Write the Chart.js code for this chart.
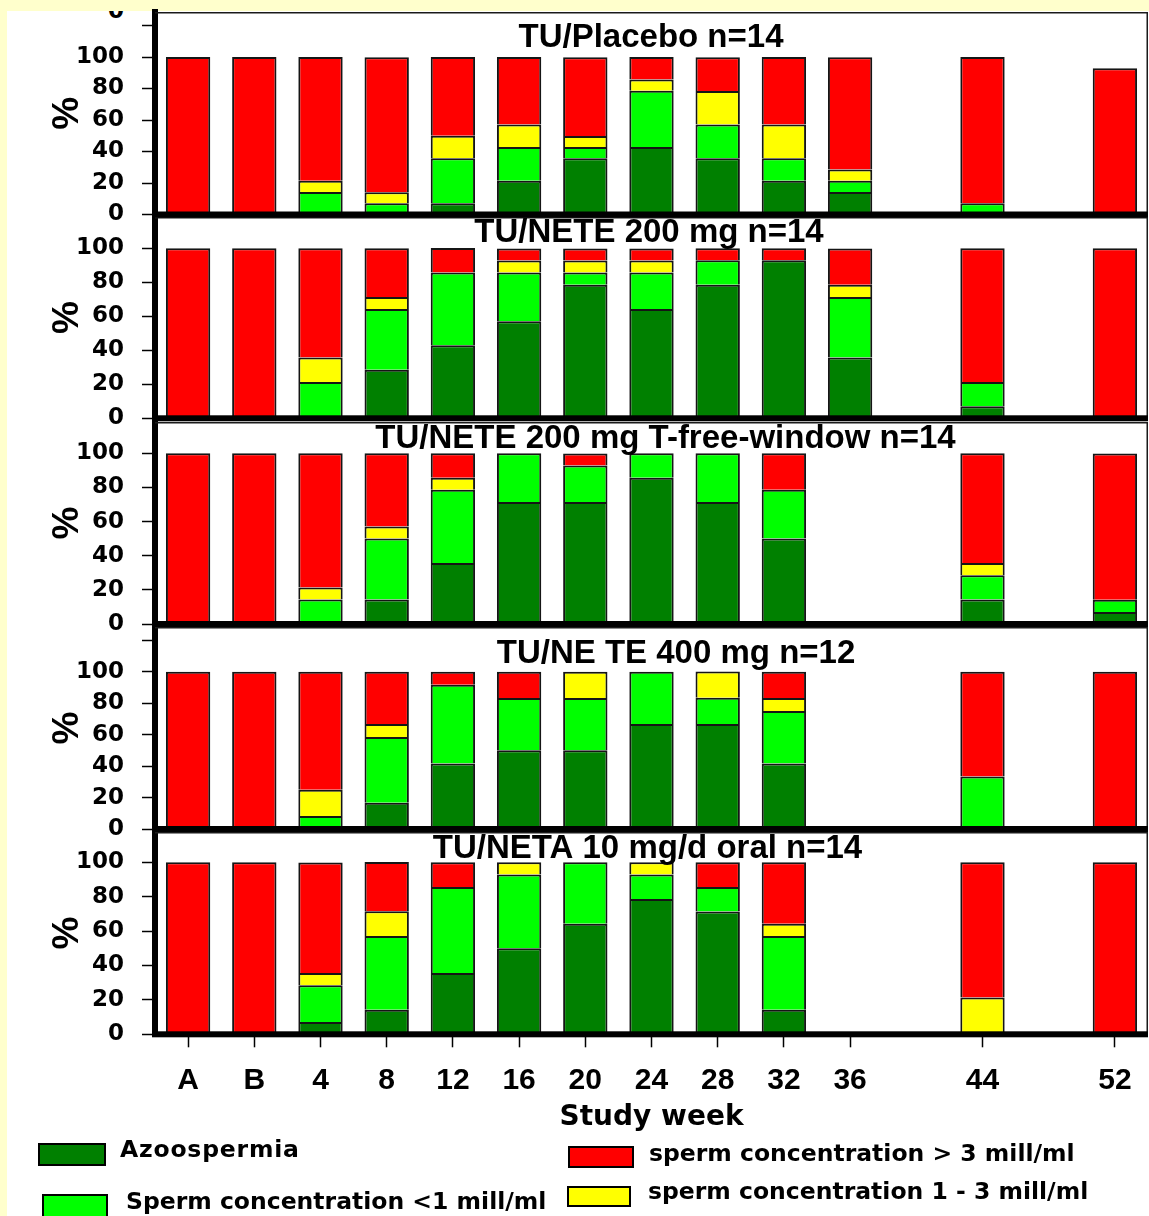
<!DOCTYPE html>
<html><head><meta charset="utf-8">
<script src="https://cdn.jsdelivr.net/npm/chart.js@4.4.1/dist/chart.umd.min.js"></script>
<style>
html,body{margin:0;padding:0}
body{width:1149px;height:1216px;overflow:hidden;background:#FFFFCC;position:relative}
#frame{position:absolute;left:7px;top:11px;width:1142px;height:1205px;background:#fff;overflow:hidden}
#clip0{position:absolute;left:0;top:-12px;width:117px;text-align:right;font:bold 23px/1 "DejaVu Sans",sans-serif;color:#000}
canvas{position:absolute;left:-30px;top:-30px;width:1209px;height:1246px}
.lg{position:absolute;font:bold 23.5px/1 "DejaVu Sans",sans-serif;color:#000;white-space:nowrap;z-index:10}
.bx{position:absolute;box-sizing:border-box;border:2px solid #000;z-index:10}
</style></head><body>
<div id="frame"><div id="clip0">0</div></div>
<canvas id="p0" width="1209" height="1246"></canvas>
<canvas id="p1" width="1209" height="1246"></canvas>
<canvas id="p2" width="1209" height="1246"></canvas>
<canvas id="p3" width="1209" height="1246"></canvas>
<canvas id="p4" width="1209" height="1246"></canvas>

<div class="bx" style="left:38px;top:1143px;width:68px;height:23px;background:#008000"></div>
<div class="lg" style="left:120px;top:1138px;letter-spacing:0.8px">Azoospermia</div>
<div class="bx" style="left:42px;top:1194px;width:66px;height:24px;background:#00FF00"></div>
<div class="lg" style="left:126px;top:1190px">Sperm concentration &lt;1 mill/ml</div>
<div class="bx" style="left:568px;top:1146px;width:66px;height:22px;background:#FF0000"></div>
<div class="lg" style="left:649px;top:1142px">sperm concentration &gt; 3 mill/ml</div>
<div class="bx" style="left:567px;top:1186px;width:64px;height:21px;background:#FFFF00"></div>
<div class="lg" style="left:648px;top:1180px">sperm concentration 1 - 3 mill/ml</div>

<script>
// ---- data ----
const weeks = ['A','B','4','8','12','16','20','24','28','32','36','40','44','48','52'];
const tickLabels = ['A','B','4','8','12','16','20','24','28','32','36','','44','','52'];
const yTicks = [0,20,40,60,80,100,120];
const seriesNames = ['Azoospermia','Sperm concentration <1 mill/ml','sperm concentration 1 - 3 mill/ml','sperm concentration > 3 mill/ml'];
const panelTitles = ['TU/Placebo n=14','TU/NETE 200 mg n=14','TU/NETE 200 mg T-free-window n=14','TU/NE TE 400 mg n=12','TU/NETA 10 mg/d oral n=14'];
const yAxisMax = [128.6, 118.4, 118.3, 128.4, 117.6];

const p1Azoo = [0,0,0,0,7.1,21.4,35.7,42.9,35.7,21.4,14.3,null,0,null,0];
const p1Low  = [0,0,14.3,7.1,28.6,21.4,7.1,35.7,21.4,14.3,7.1,null,7.1,null,0];
const p1Mid  = [0,0,7.1,7.1,14.3,14.3,7.1,7.1,21.4,21.4,7.1,null,0,null,0];
const p1High = [100,100,78.6,85.7,50,42.9,50,14.3,21.4,42.9,71.4,null,92.9,null,92.9];

const p2Azoo = [0,0,0,28.6,42.9,57.1,78.6,64.3,78.6,92.9,35.7,null,7.1,null,0];
const p2Low  = [0,0,21.4,35.7,42.9,28.6,7.1,21.4,14.3,0,35.7,null,14.3,null,0];
const p2Mid  = [0,0,14.3,7.1,0,7.1,7.1,7.1,0,0,7.1,null,0,null,0];
const p2High = [100,100,64.3,28.6,14.3,7.1,7.1,7.1,7.1,7.1,21.4,null,78.6,null,100];

const p3Azoo = [0,0,0,14.3,35.7,71.4,71.4,85.7,71.4,50,null,null,14.3,null,7.1];
const p3Low  = [0,0,14.3,35.7,42.9,28.6,21.4,14.3,28.6,28.6,null,null,14.3,null,7.1];
const p3Mid  = [0,0,7.1,7.1,7.1,0,0,0,0,0,null,null,7.1,null,0];
const p3High = [100,100,78.6,42.9,14.3,0,7.1,0,0,21.4,null,null,64.3,null,85.7];

const p4Azoo = [0,0,0,16.7,41.7,50,50,66.7,66.7,41.7,null,null,0,null,0];
const p4Low  = [0,0,8.3,41.7,50,33.3,33.3,33.3,16.7,33.3,null,null,33.3,null,0];
const p4Mid  = [0,0,16.7,8.3,0,0,16.7,0,16.7,8.3,null,null,0,null,0];
const p4High = [100,100,75,33.3,8.3,16.7,0,0,0,16.7,null,null,66.7,null,100];

const p5Azoo = [0,0,7.1,14.3,35.7,50,64.3,78.6,71.4,14.3,null,null,0,null,0];
const p5Low  = [0,0,21.4,42.9,50,42.9,35.7,14.3,14.3,42.9,null,null,0,null,0];
const p5Mid  = [0,0,7.1,14.3,0,7.1,0,7.1,0,7.1,null,null,21.4,null,0];
const p5High = [100,100,64.3,28.6,14.3,0,0,0,14.3,35.7,null,null,78.6,null,100];

// ---- styling / layout ----
const colors = ['#008000','#00FF00','#FFFF00','#FF0000'];
const LIB = '"Liberation Sans", Arial, sans-serif';
const DJV = '"DejaVu Sans", sans-serif';
const OFF = 30;
const XH = 110;
const L = {
  top:  [12, 217, 422, 627, 832],
  zero: [214.5, 418.3, 624, 829, 1034.3],
  titleX: [651, 649, 665.5, 676, 647.5],
  titleBase: [47.3, 242, 448, 663, 858]
};

const panelDecor = {
  id: 'panelDecor',
  afterDatasetsDraw(chart, args, o) {
    const {ctx, chartArea: a} = chart;
    ctx.save();
    ctx.strokeStyle = '#1a1a1a';
    ctx.lineWidth = 1.5;
    ctx.beginPath();
    ctx.moveTo(a.left, a.top + 0.75);
    ctx.lineTo(a.right - 0.75, a.top + 0.75);
    ctx.lineTo(a.right - 0.75, a.bottom);
    ctx.stroke();
    ctx.fillStyle = '#000';
    ctx.fillRect(a.left - 3, a.bottom - 3, a.right - a.left + 3, 6);
    ctx.font = 'bold 33px ' + LIB;
    ctx.textAlign = 'center';
    ctx.textBaseline = 'alphabetic';
    ctx.fillText(o.text, o.x, o.base);
    ctx.restore();
  }
};

const allSeries = [
  [p1Azoo, p1Low, p1Mid, p1High],
  [p2Azoo, p2Low, p2Mid, p2High],
  [p3Azoo, p3Low, p3Mid, p3High],
  [p4Azoo, p4Low, p4Mid, p4High],
  [p5Azoo, p5Low, p5Mid, p5High]
];

allSeries.forEach((set, i) => {
  const last = i === 4;
  const cv = document.getElementById('p' + i);
  cv.style.zIndex = String(6 - i);
  new Chart(cv, {
    type: 'bar',
    data: {
      labels: weeks,
      datasets: set.map((d, k) => ({
        label: seriesNames[k], data: d,
        backgroundColor: colors[k], borderColor: '#151515', borderWidth: 2,
        barPercentage: 0.67, categoryPercentage: 1
      }))
    },
    options: {
      responsive: false, animation: false, devicePixelRatio: 1,
      layout: { padding: {
        left: OFF, right: 1209 - (1148 + OFF), top: L.top[i] + OFF,
        bottom: last ? 1216 - L.zero[i] - XH : 1216 - L.zero[i]
      }},
      plugins: {
        legend: { display: false },
        tooltip: { enabled: false },
        panelDecor: { text: panelTitles[i], x: L.titleX[i] + OFF, base: L.titleBase[i] + OFF }
      },
      scales: {
        x: {
          display: last, stacked: true, offset: true,
          grid: { display: true, drawOnChartArea: false, drawTicks: true, offset: false,
                  tickLength: 13, tickWidth: 1.5,
                  tickColor: c => tickLabels[c.index] ? '#000' : 'rgba(0,0,0,0)' },
          border: { display: false },
          ticks: { autoSkip: false, maxRotation: 0, minRotation: 0, padding: 15, color: '#000',
                   font: { family: LIB, size: 30, weight: 'bold' },
                   callback: (v, idx) => tickLabels[idx] },
          title: { display: true, text: 'Study week', color: '#000',
                   font: { family: DJV, size: 28, weight: 'bold' }, padding: { top: 0, bottom: 10 } },
          afterFit: s => { s.height = last ? XH : 0; }
        },
        y: {
          stacked: true, min: 0, max: yAxisMax[i],
          afterBuildTicks: s => { s.ticks = yTicks.filter(v => v <= s.max).map(v => ({ value: v })); },
          afterFit: s => { s.width = 155; },
          grid: { display: true, drawOnChartArea: false, drawTicks: true, tickLength: 13, tickWidth: 1.5, tickColor: '#000' },
          border: { display: true, color: '#000', width: 6 },
          ticks: { padding: 18, color: '#000', font: { family: DJV, size: 23, weight: 'bold' },
                   callback: v => v <= 100 ? String(v) : '' },
          title: { display: true, text: '%', color: '#000',
                   font: { family: LIB, size: 37, weight: 'bold' }, padding: { top: 46, bottom: 0 } }
        }
      }
    },
    plugins: [panelDecor]
  });
});
</script>
</body></html>
